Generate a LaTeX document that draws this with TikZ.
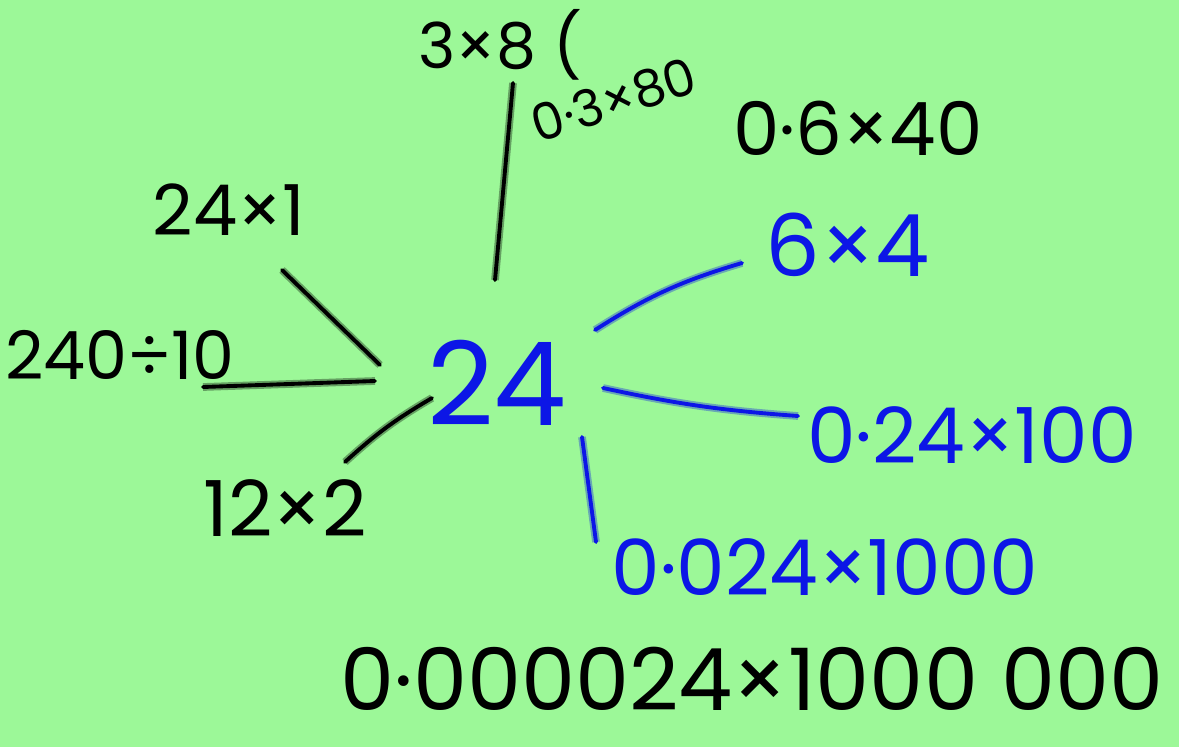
\documentclass[tikz,border=0pt]{standalone}
\usepackage{fontspec}
\setmainfont{Poppins}
\usetikzlibrary{positioning}

\definecolor{boardgreen}{RGB}{156,248,152}
\definecolor{penblue}{RGB}{12,22,230}

\begin{document}
\begin{tikzpicture}[
    x=0.02cm,
    y=-0.02cm,
    sum/.style={
        inner sep=0pt,
        font=\fontsize{38}{44}\selectfont
    },
    bluesum/.style={
        sum,
        text=penblue
    },
    spoke/.style={
        draw=#1,
        line width=2.2pt,
        line cap=round,
        preaction={draw=#1, draw opacity=0.35, line width=4.4pt}
    },
    spoke/.default=black,
]

\useasboundingbox (0,0) rectangle (1179,747);
\fill[boardgreen] (0,0) rectangle (1179,747);

% centre
\node[bluesum, font=\fontsize{66}{72}\selectfont] (c24) at (497,383) {24};

% black sums
\node[sum, font=\fontsize{36}{42}\selectfont] (t3x8) at (500,45) {3×8 (};
\node[sum, rotate=18, font=\fontsize{29}{34}\selectfont] (t03x80) at (614,100) {0·3×80};
\node[sum, font=\fontsize{42}{48}\selectfont] (t06x40) at (858,128) {0·6×40};
\node[sum, font=\fontsize{40}{46}\selectfont] (t24x1) at (229,210) {24×1};
\node[sum] (t240d10) at (120,355) {240÷10};
\node[sum, font=\fontsize{44}{50}\selectfont] (t12x2) at (285,508) {12×2};
\node[sum, font=\fontsize{49}{55}\selectfont] (tbig) at (752,679) {0·000024×1000 000};

% blue sums
\node[bluesum, font=\fontsize{49}{55}\selectfont] (t6x4) at (848,245) {6×4};
\node[bluesum, font=\fontsize{44}{50}\selectfont] (t024x100) at (972,435) {0·24×100};
\node[bluesum, font=\fontsize{44}{50}\selectfont] (t0024x1000) at (825,567) {0·024×1000};

% spokes
\draw[spoke] ([shift={(-2,-103)}]c24.center) -- ([shift={(13,38)}]t3x8.center);
\draw[spoke] ([shift={(-117,-18)}]c24.center) -- ([shift={(53,60)}]t24x1.center);
\draw[spoke] ([shift={(-122,-2)}]c24.center) -- ([shift={(83,32)}]t240d10.center);
\draw[spoke] ([shift={(-65,15)}]c24.center) to[bend right=6] ([shift={(60,-46)}]t12x2.center);
\draw[spoke=penblue] ([shift={(98,-53)}]c24.center) to[bend left=8] ([shift={(-106,18)}]t6x4.center);
\draw[spoke=penblue] ([shift={(106,5)}]c24.center) to[bend right=4] ([shift={(-174,-19)}]t024x100.center);
\draw[spoke=penblue] ([shift={(85,54)}]c24.center) -- ([shift={(-229,-25)}]t0024x1000.center);

\end{tikzpicture}
\end{document}
